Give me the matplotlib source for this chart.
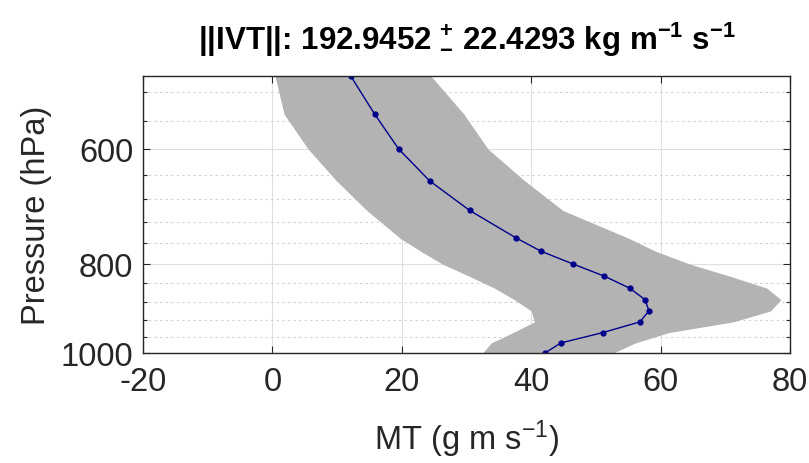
import numpy as np
import matplotlib.pyplot as plt
from matplotlib.ticker import FixedLocator, NullFormatter

plt.rcParams['font.family'] = ['Liberation Sans', 'DejaVu Sans']
plt.rcParams['mathtext.fontset'] = 'custom'
plt.rcParams['mathtext.rm'] = 'Liberation Sans'
plt.rcParams['mathtext.it'] = 'Liberation Sans:italic'
plt.rcParams['mathtext.bf'] = 'Liberation Sans:bold'
plt.rcParams['axes.unicode_minus'] = False

#----------------------------DATA---------------------------------#
pressure = [500, 550, 600, 650, 700, 750, 775, 800, 825, 850, 875, 900, 925, 950, 975, 1000]
mt_mean = [12.1, 15.8, 19.5, 24.3, 30.5, 37.7, 41.5, 46.4, 51.3, 55.2, 57.6, 58.2, 56.8, 51.1, 44.6, 42.1]
mt_low = [0.4, 1.8, 5.5, 9.9, 14.6, 19.7, 22.9, 26.2, 30.4, 34.3, 37.4, 40.0, 40.5, 37.2, 33.8, 32.5]
mt_high = [24.5, 29.6, 33.3, 39.0, 44.9, 55.0, 59.2, 64.4, 70.7, 76.4, 78.6, 77.0, 71.2, 61.3, 56.1, 52.7]
ivt_mean = 192.9452
ivt_std = 22.4293
xticks = [-20, 0, 20, 40, 60, 80]
yticks = [600, 800, 1000]
yminor = [520, 560, 640, 680, 720, 760, 840, 880, 920, 960]
#-----------------------------------------------------------------#

fig = plt.figure(figsize=(8.09, 4.64), dpi=100)
ax = fig.add_axes([0.1768, 0.237, 0.7997, 0.597])

ax.fill_betweenx(pressure, mt_low, mt_high, color='#b3b3b3', linewidth=0, zorder=2)
ax.plot(mt_mean, pressure, color='#00008b', linewidth=1.0, marker='.', markersize=7, zorder=3)

ax.set_yscale('log')
ax.set_ylim(1000, 500)
ax.set_xlim(-20, 80)
ax.yaxis.set_major_locator(FixedLocator(yticks))
ax.yaxis.set_minor_locator(FixedLocator(yminor))
ax.yaxis.set_major_formatter(plt.FixedFormatter([str(t) for t in yticks]))
ax.yaxis.set_minor_formatter(NullFormatter())
ax.set_xticks(xticks)
ax.set_xticklabels([str(t) for t in xticks])

ax.grid(True, which='major', color='#e0e0e0', linewidth=0.8, zorder=0)
ax.grid(True, which='minor', axis='y', color='#d0d0d0', linestyle=(0, (2, 3)), linewidth=0.8, zorder=0)
ax.set_axisbelow(True)

ax.tick_params(which='both', direction='in', top=True, right=True, colors='#262626',
               labelsize=23.5, width=0.8)
ax.tick_params(axis='x', pad=9)
ax.tick_params(axis='y', pad=7)
ax.tick_params(which='major', length=5)
ax.tick_params(which='minor', length=3)
for s in ax.spines.values():
    s.set_color('#262626')
    s.set_linewidth(1.0)
    s.set_zorder(5)

ax.set_ylabel('Pressure (hPa)', fontsize=23.5, color='#262626', labelpad=6)
ax.set_xlabel(r'MT (g m s$^{-1}$)', fontsize=23.5, color='#262626', labelpad=15)
title = (r'||IVT||: %.4f $\mathbf{{}^{+}_{-}}$ %.4f kg m$^{\mathbf{-1}}$ s$^{\mathbf{-1}}$'
         % (ivt_mean, ivt_std))
ax.set_title(title, fontsize=22.5, fontweight='bold', pad=21)

plt.savefig('out.png', dpi=100)
